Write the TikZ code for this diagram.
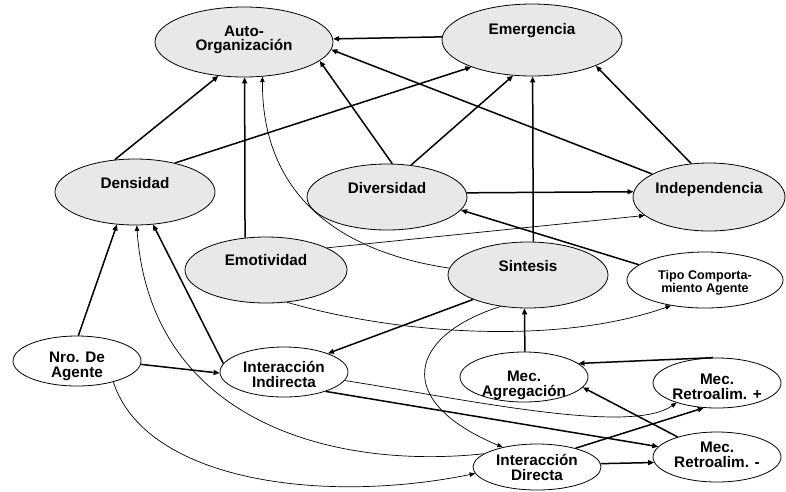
\documentclass[tikz,border=0pt]{standalone}
\usepackage{fontspec}
\setmainfont{Liberation Sans}
\usetikzlibrary{shapes.geometric,arrows.meta}
\tikzset{
  gnode/.style={ellipse, draw, fill=black!9, line width=0.8pt, inner sep=0pt},
  wnode/.style={ellipse, draw, fill=white, line width=0.8pt, inner sep=0pt},
  lbl/.style={font=\bfseries\fontsize{15.3}{15}\selectfont, align=center, inner sep=0pt},
  slbl/.style={font=\bfseries\fontsize{12.6}{13}\selectfont, align=center, inner sep=0pt},
  thk/.style={line width=1.5pt, -{Triangle[length=6pt,width=5pt]}},
  thn/.style={line width=0.7pt, -{Triangle[length=5.5pt,width=4.5pt]}},
}
\begin{document}
\begin{tikzpicture}[x=1pt,y=-1pt]
\useasboundingbox[fill=white] (0,0) rectangle (786,491);
% nodes
\node[gnode, minimum width=178pt, minimum height=70pt] (AO) at (244,42) {};
\node[gnode, minimum width=180pt, minimum height=72pt] (EM) at (532,40) {};
\node[gnode, minimum width=160pt, minimum height=66pt] (DE) at (135,192) {};
\node[gnode, minimum width=160pt, minimum height=66pt] (DI) at (387,197) {};
\node[gnode, minimum width=152pt, minimum height=68pt] (IN) at (709,197) {};
\node[gnode, minimum width=162pt, minimum height=66pt] (EMO) at (266,270) {};
\node[gnode, minimum width=160pt, minimum height=66pt] (SI) at (528,275) {};
\node[wnode, minimum width=156pt, minimum height=56pt] (TC) at (705,280) {};
\node[wnode, minimum width=128pt, minimum height=50pt] (NA) at (77,361) {};
\node[wnode, minimum width=128pt, minimum height=50pt] (II) at (284,372) {};
\node[wnode, minimum width=128pt, minimum height=50pt] (MA) at (524,377) {};
\node[wnode, minimum width=128pt, minimum height=50pt] (RP) at (717,383) {};
\node[wnode, minimum width=128pt, minimum height=46pt] (ID) at (537,467) {};
\node[wnode, minimum width=128pt, minimum height=50pt] (RM) at (717,457) {};
% labels
\node[lbl, font=\bfseries\fontsize{15.3}{14}\selectfont] (tAO) at (244,39.5) {Auto-\\Organización};
\node[lbl] (tEM) at (532,30.5) {Emergencia};
\node[lbl] (tDE) at (135,183) {Densidad};
\node[lbl] (tDI) at (387,188) {Diversidad};
\node[lbl] (tIN) at (709,190) {Independencia};
\node[lbl] (tEMO) at (266,260) {Emotividad};
\node[lbl] (tSI) at (528,266) {Sintesis};
\node[slbl] (tTC) at (705,283) {Tipo Comporta-\\miento Agente};
\node[lbl] (tNA) at (77,366.5) {Nro. De\\Agente};
\node[lbl] (tII) at (284,374.5) {Interacción\\Indirecta};
\node[lbl] (tMA) at (524,385) {Mec.\\Agregación};
\node[lbl] (tRP) at (717,386.5) {Mec.\\Retroalim. +};
\node[lbl] (tID) at (537,467.7) {Interacción\\Directa};
\node[lbl] (tRM) at (717,455) {Mec.\\Retroalim. -};
% connectors
\draw[thk] (EM.178.7) -- (AO.2.6);
\draw[thk] (IN.158.9) -- (AO.355.3);
\draw[thk] (DE.122) -- (AO.233.4);
\draw[thk] (EMO.123.4) -- (AO.271.6);
\draw[thn] (SI.175) .. controls (360,255) and (262,210) .. (AO.298.5);
\draw[thk] (DI.81) -- (AO.346.3);
\draw[thk] (DE.36.4) -- (EM.204.6);
\draw[thk] (DI.53.4) -- (EM.242.8);
\draw[thk] (SI.81.4) -- (EM.271.6);
\draw[thk] (IN.118) -- (EM.338.2);
\draw[thk] (DI.3.6) -- (IN.176.3);
\draw[thk] (TC.167) -- (DI.350.3);
\draw[thn] (EMO.20.4) -- (IN.196);
\draw[thn] (EMO.303.7) .. controls (400,335) and (560,345) .. (TC.217.6);
\draw[thk] (SI.204.4) -- (II.23.4);
\draw[thn] (SI.229.7) .. controls (410,335) and (390,400) .. (ID.150.4);
\draw[thk] (MA.88) -- (SI.264.8);
\draw[thk] (RP.99.5) -- (MA.14);
\draw[thk] (RM.153.4) -- (MA.350.7);
\draw[thk] (ID.26) -- (RP.242.6);
\draw[thn] (II.352.8) .. controls (470,400) and (630,435) .. (RP.206.6);
\draw[thk] (II.335.6) -- (RM.170.5);
\draw[thk] (ID.3.5) -- (RM.185.7);
\draw[thk] (NA.87.6) -- (DE.241);
\draw[thk] (II.172.4) -- (DE.299);
\draw[thn] (ID.166.4) .. controls (330,470) and (150,420) .. (DE.273.5);
\draw[thk] (NA.357.4) -- (II.181);
\draw[thn] (NA.330) .. controls (145,480) and (320,505) .. (ID.186.1);
\end{tikzpicture}
\end{document}
